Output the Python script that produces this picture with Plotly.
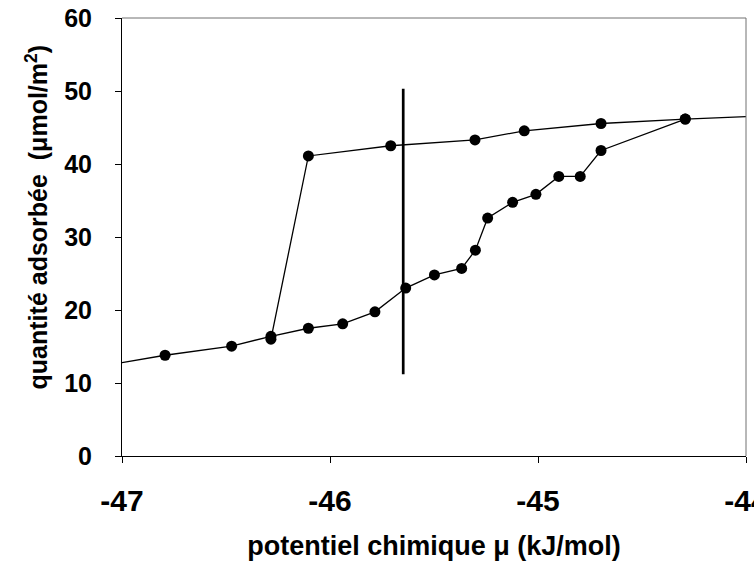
import plotly.graph_objects as go

# Adsorption branch (lower)
ads_x = [-46.793, -46.473, -46.284, -46.104, -45.939, -45.784, -45.636, -45.498,
         -45.367, -45.301, -45.242, -45.122, -45.010, -44.900, -44.797, -44.697, -44.292]
ads_y = [13.8, 15.05, 16.4, 17.5, 18.1, 19.75, 23.0, 24.8,
         25.7, 28.2, 32.6, 34.75, 35.85, 38.3, 38.3, 41.85, 46.15]

# Desorption branch (upper)
des_x = [-44.292, -44.697, -45.066, -45.303, -45.708, -46.104, -46.284]
des_y = [46.15, 45.55, 44.55, 43.3, 42.5, 41.1, 16.0]

# Line continuations to the plot edges (no markers)
ext_left_x = [-47.0, -46.793]
ext_left_y = [12.8, 13.8]
ext_right_x = [-44.292, -44.0]
ext_right_y = [46.15, 46.5]

# Vertical marker line
vline_x = [-45.648, -45.648]
vline_y = [11.2, 50.3]

x_ticks = [-47, -46, -45, -44]
y_ticks = [0, 10, 20, 30, 40, 50, 60]

FONT = "Liberation Sans, Arial, sans-serif"

fig = go.Figure()
for xs, ys in [(ext_left_x, ext_left_y), (ext_right_x, ext_right_y)]:
    fig.add_trace(go.Scatter(x=xs, y=ys, mode="lines",
                             line=dict(color="black", width=1.3),
                             showlegend=False, hoverinfo="skip"))
fig.add_trace(go.Scatter(x=des_x, y=des_y, mode="lines+markers",
                         line=dict(color="black", width=1.3),
                         marker=dict(color="black", size=11),
                         showlegend=False))
fig.add_trace(go.Scatter(x=ads_x, y=ads_y, mode="lines+markers",
                         line=dict(color="black", width=1.3),
                         marker=dict(color="black", size=11),
                         showlegend=False))
fig.add_trace(go.Scatter(x=vline_x, y=vline_y, mode="lines",
                         line=dict(color="black", width=2.7),
                         showlegend=False))

fig.update_layout(
    width=754, height=566,
    margin=dict(l=122, r=8, t=18, b=110),
    paper_bgcolor="white", plot_bgcolor="white",
    font=dict(family=FONT, color="black"),
    showlegend=False,
)
fig.update_xaxes(
    range=[-47, -44], tickvals=x_ticks, ticktext=[str(v) for v in x_ticks],
    showgrid=False, zeroline=False, automargin=False,
    showline=True, linecolor="black", linewidth=1,
    ticks="outside", ticklen=6, tickcolor="black", tickwidth=1,
    tickfont=dict(family=FONT, size=30, color="black", weight="bold"),
    ticklabelstandoff=12, ticklabeloverflow="allow",
    title=dict(text="<b>potentiel chimique μ (kJ/mol)</b>",
               font=dict(family=FONT, size=27, color="black"), standoff=20),
)
fig.update_yaxes(
    range=[0, 60], tickvals=y_ticks, ticktext=[str(v) for v in y_ticks],
    showgrid=False, zeroline=False, automargin=False,
    showline=True, linecolor="black", linewidth=1,
    ticks="outside", ticklen=6, tickcolor="black", tickwidth=1,
    tickfont=dict(family=FONT, size=25, color="black", weight="bold"),
    ticklabelstandoff=18,
)
# Y-axis title (positioned slightly above the plot centre, as in the reference)
fig.add_annotation(
    text="<b>quantité adsorbée\u00a0\u00a0(μmol/m<sup>2</sup>)</b>",
    xref="paper", yref="paper", x=-0.136, y=0.545,
    xanchor="center", yanchor="middle", textangle=-90, showarrow=False,
    font=dict(family=FONT, size=25, color="black"),
)
# Gray frame on top and right
fig.add_shape(type="line", xref="paper", yref="paper", x0=0, x1=1, y0=1, y1=1,
              line=dict(color="#707070", width=1))
fig.add_shape(type="line", xref="paper", yref="paper", x0=1, x1=1, y0=0, y1=1,
              line=dict(color="#707070", width=1))

fig.write_html("out.html")
